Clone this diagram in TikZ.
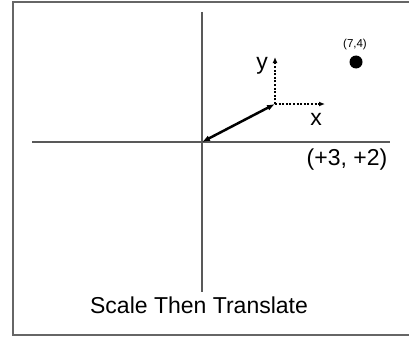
\documentclass[tikz,border=0pt]{standalone}
\usepackage{fontspec}
\setmainfont{Liberation Sans}
\usetikzlibrary{arrows.meta}
\begin{document}
\begin{tikzpicture}[x=1pt,y=-1pt,
  axis/.style={draw=black!65,line width=1.3pt},
  frameline/.style={draw=black!60,line width=1.6pt},
  vec/.style={draw=black,line width=2.5pt,{Latex[length=8pt,width=6pt]}-{Latex[length=8pt,width=6pt]}},
  dotarrow/.style={draw=black,line width=2pt,dash pattern=on 2pt off 1.6pt,-{Latex[length=6pt,width=5pt]}},
  lbl/.style={inner sep=0pt,font=\fontsize{23}{27}\selectfont},
  small/.style={inner sep=0pt,font=\fontsize{11.5}{13}\selectfont},
  dot/.style={circle,fill=black,inner sep=0pt,minimum size=13pt}]
\useasboundingbox (0,0) rectangle (409,337);
\begin{scope}
\clip (0,0) rectangle (409,337);
\draw[frameline] (13,2) rectangle (420,335);
\end{scope}
\coordinate (xl) at (32,142);
\coordinate (xr) at (390,142);
\coordinate (yt) at (202,12);
\coordinate (yb) at (202,292);
\coordinate (o) at (202,142);
\coordinate (p) at (275,104);
\coordinate (px) at (325,104);
\coordinate (py) at (275,57);
\draw[axis] (xl) -- (xr);
\draw[axis] (yt) -- (yb);
\draw[vec] (o) -- (p);
\draw[dotarrow] (p) -- (px);
\draw[dotarrow] (p) -- (py);
\node[lbl] (ylab) at (262,66) {y};
\node[lbl] (xlab) at (316,119) {x};
\node[lbl] (tr) at (347,160) {(+3, +2)};
\node[small] (pt) at (355,45) {(7,4)};
\node[dot] (pdot) at (356,62) {};
\node[lbl] (title) at (199,305) {Scale Then Translate};
\end{tikzpicture}
\end{document}
